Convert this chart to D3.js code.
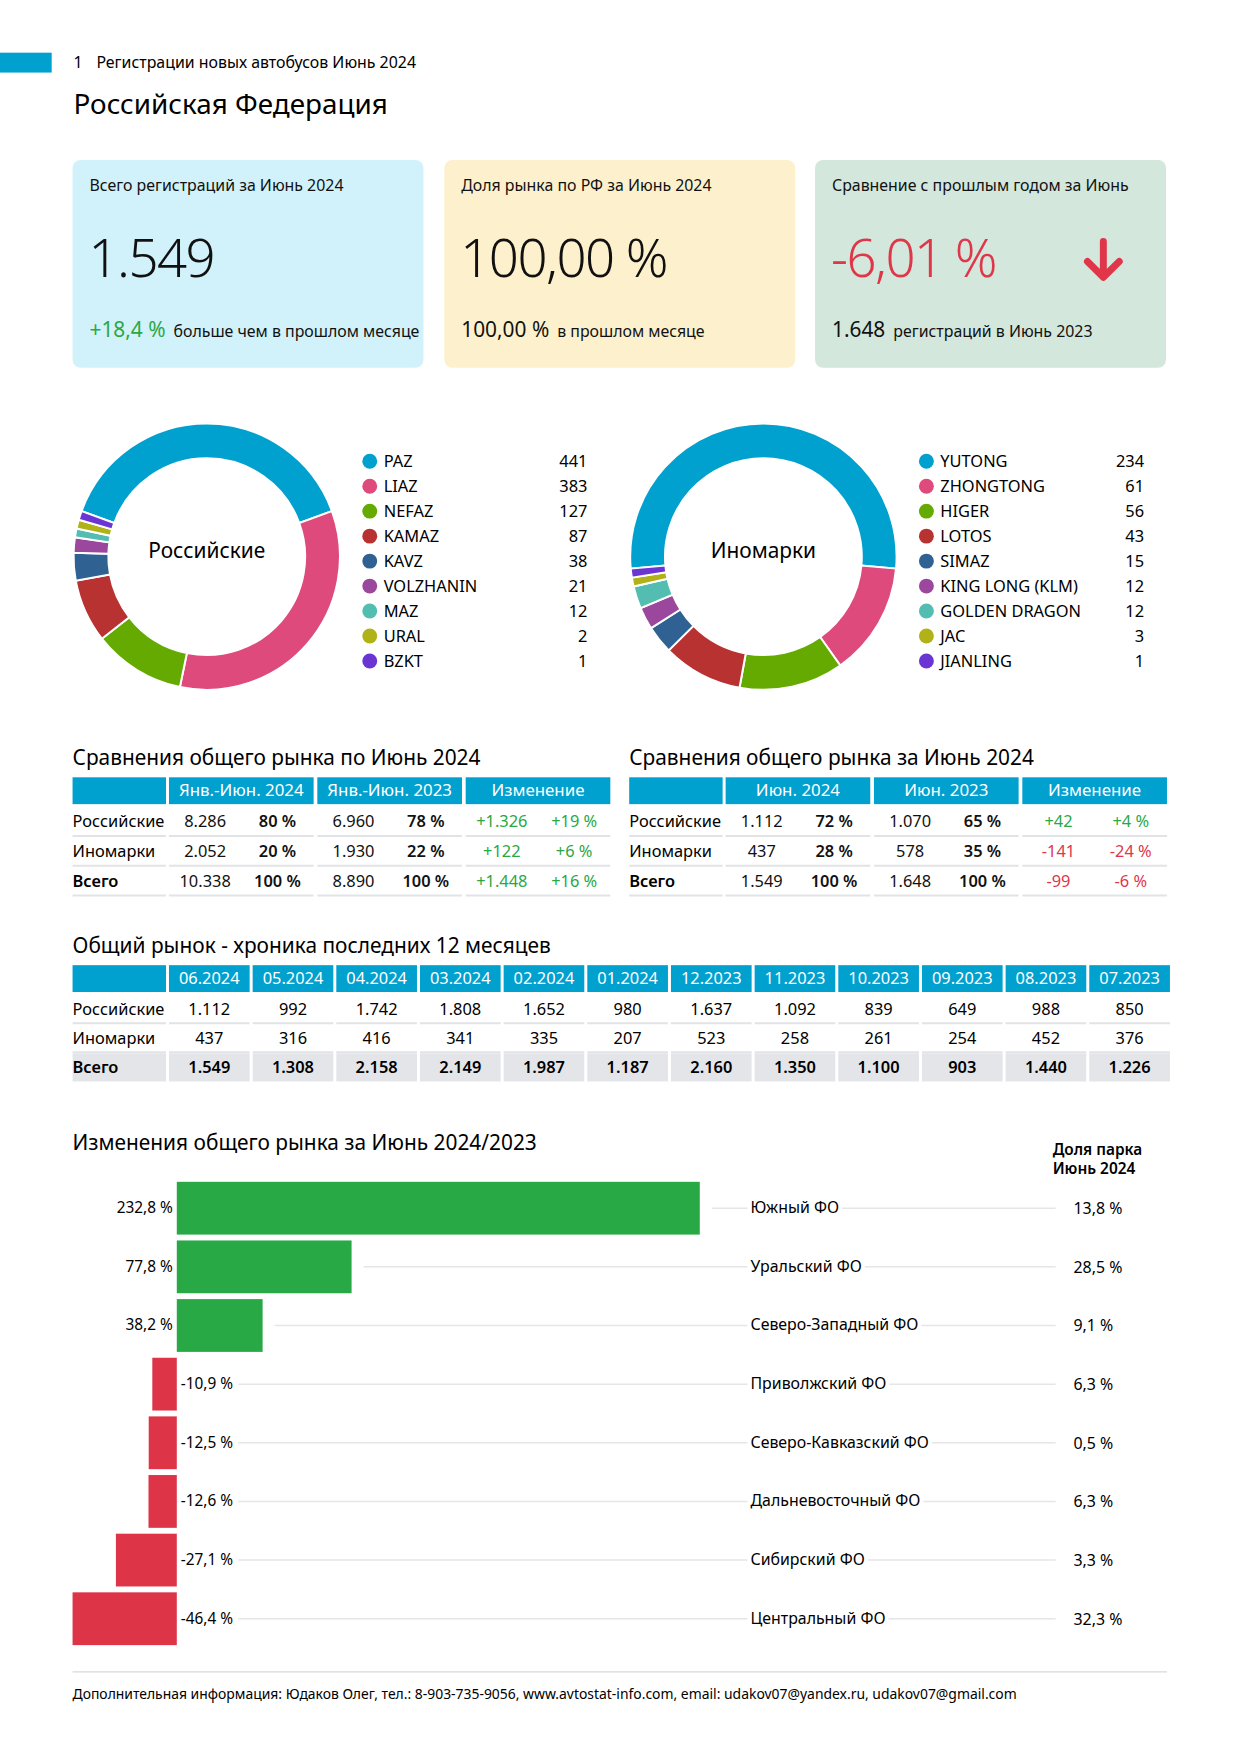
<!DOCTYPE html>
<html>
<head>
<meta charset="utf-8">
<script src="https://cdn.jsdelivr.net/npm/d3@7"></script>
<style>
  body { margin: 0; background: #fff; }
  svg { font-family: 'Noto Sans', sans-serif; display: block; }
</style>
</head>
<body>
<svg id="page" width="1240" height="1755"></svg>
<script>
// --- data ---
const rusBrands = ['PAZ', 'LIAZ', 'NEFAZ', 'KAMAZ', 'KAVZ', 'VOLZHANIN', 'MAZ', 'URAL', 'BZKT'];
const rusValues = [441, 383, 127, 87, 38, 21, 12, 2, 1];
const forBrands = ['YUTONG', 'ZHONGTONG', 'HIGER', 'LOTOS', 'SIMAZ', 'KING LONG (KLM)', 'GOLDEN DRAGON', 'JAC', 'JIANLING'];
const forValues = [234, 61, 56, 43, 15, 12, 12, 3, 1];
const sliceColors = ['#00a0cf', '#de4a7b', '#64aa00', '#b83232', '#2f6293', '#9b479d', '#52bdb0', '#b0b218', '#6a35d2'];

const rowNames = ['Российские', 'Иномарки', 'Всего'];
const ytd2024 = [8286, 2052, 10338];
const ytdShare2024 = [80, 20, 100];
const ytd2023 = [6960, 1930, 8890];
const ytdShare2023 = [78, 22, 100];
const ytdDiff = [1326, 122, 1448];
const ytdDiffPct = [19, 6, 16];

const jun2024 = [1112, 437, 1549];
const junShare2024 = [72, 28, 100];
const jun2023 = [1070, 578, 1648];
const junShare2023 = [65, 35, 100];
const junDiff = [42, -141, -99];
const junDiffPct = [4, -24, -6];

const months = ['06.2024', '05.2024', '04.2024', '03.2024', '02.2024', '01.2024', '12.2023', '11.2023', '10.2023', '09.2023', '08.2023', '07.2023'];
const monthRus = [1112, 992, 1742, 1808, 1652, 980, 1637, 1092, 839, 649, 988, 850];
const monthFor = [437, 316, 416, 341, 335, 207, 523, 258, 261, 254, 452, 376];
const monthTotal = [1549, 1308, 2158, 2149, 1987, 1187, 2160, 1350, 1100, 903, 1440, 1226];

const regions = ['Южный ФО', 'Уральский ФО', 'Северо-Западный ФО', 'Приволжский ФО', 'Северо-Кавказский ФО', 'Дальневосточный ФО', 'Сибирский ФО', 'Центральный ФО'];
const regionChange = [232.8, 77.8, 38.2, -10.9, -12.5, -12.6, -27.1, -46.4];
const regionShare = [13.8, 28.5, 9.1, 6.3, 0.5, 6.3, 3.3, 32.3];

const blue = '#00a0cf';
const green = '#2aa845';
const red = '#e0364a';
const ru = d3.formatLocale({ decimal: ',', thousands: '.', grouping: [3], currency: ['', ''], minus: '-' });
const fmtInt = ru.format(',d');
const fmtDec = ru.format(',.1f');
const signed = v => (v > 0 ? '+' : '') + fmtInt(v);

const svg = d3.select('#page');
const root = svg.append('g').attr('transform', 'scale(0.994)');

// --- header ---
root.append('rect').attr('x', 0).attr('y', 53).attr('width', 52).attr('height', 20).attr('fill', blue);
root.append('text').attr('x', 74).attr('y', 68).attr('font-size', 16).text('1');
root.append('text').attr('x', 97).attr('y', 68).attr('font-size', 16).text('Регистрации новых автобусов Июнь 2024');
root.append('text').attr('x', 74).attr('y', 115).attr('font-size', 28).text('Российская Федерация');

// --- kpi boxes ---
const boxes = [
  { x: 73, fill: '#d1f2fa', label: 'Всего регистраций за Июнь 2024', big: fmtInt(1549), bigColor: '#111', sub: '+18,4 %', subColor: green, note: 'больше чем в прошлом месяце' },
  { x: 447, fill: '#fdf1cd', label: 'Доля рынка по РФ за Июнь 2024', big: '100,00 %', bigColor: '#111', sub: '100,00 %', subColor: '#111', note: 'в прошлом месяце' },
  { x: 820, fill: '#d3e7dc', label: 'Сравнение с прошлым годом за Июнь', big: '-6,01 %', bigColor: red, sub: fmtInt(1648), subColor: '#111', note: 'регистраций в Июнь 2023' },
];
const gBox = root.append('g').selectAll('g').data(boxes).join('g')
  .attr('transform', d => `translate(${d.x},161)`);
gBox.append('rect').attr('width', 353).attr('height', 209).attr('rx', 8).attr('fill', d => d.fill);
gBox.append('text').attr('x', 17).attr('y', 31).attr('font-size', 16).attr('fill', '#111').text(d => d.label);
gBox.append('text').attr('x', 16).attr('y', 118).attr('font-size', 53).attr('font-weight', 300)
  .attr('letter-spacing', -1.5).attr('fill', d => d.bigColor).text(d => d.big);
const subText = gBox.append('text').attr('x', 17).attr('y', 178);
subText.append('tspan').attr('font-size', 21).attr('fill', d => d.subColor).text(d => d.sub);
subText.append('tspan').attr('dx', 8).attr('font-size', 16).attr('fill', '#111').text(d => d.note);
root.append('path')
  .attr('d', 'M1110,243V279M1094,263L1110,279L1126,263')
  .attr('fill', 'none').attr('stroke', red).attr('stroke-width', 7)
  .attr('stroke-linecap', 'round').attr('stroke-linejoin', 'round');

// --- donuts ---
function donut(cx, cy, title, names, values, legendX, valueX) {
  const total = d3.sum(values);
  const minPart = total * 0.011; // minimum visible slice, like a chart minAngle option
  const shown = v => Math.max(v, minPart);
  const start = -Math.PI * shown(values[0]) / d3.sum(values, shown);
  const pie = d3.pie().value(shown).sort(null).startAngle(start).endAngle(start + 2 * Math.PI);
  const arc = d3.arc().innerRadius(99).outerRadius(134);
  const g = root.append('g').attr('transform', `translate(${cx},${cy})`);
  g.selectAll('path').data(pie(values)).join('path')
    .attr('d', arc).attr('fill', (d, i) => sliceColors[i])
    .attr('stroke', '#fff').attr('stroke-width', 2);
  g.append('text').attr('text-anchor', 'middle').attr('dy', 1).attr('font-size', 21).text(title);

  const y = d3.scalePoint().domain(names).range([464, 665]);
  const lg = root.append('g').attr('font-size', 16.5);
  const row = lg.selectAll('g').data(names).join('g').attr('transform', d => `translate(0,${y(d)})`);
  row.append('circle').attr('cx', legendX).attr('r', 7.5).attr('fill', (d, i) => sliceColors[i]);
  row.append('text').attr('x', legendX + 14).attr('dy', 6).text(d => d);
  row.append('text').attr('x', valueX).attr('dy', 6).attr('text-anchor', 'end').text((d, i) => values[i]);
}
donut(208, 560, 'Российские', rusBrands, rusValues, 372, 591);
donut(768, 560, 'Иномарки', forBrands, forValues, 932, 1151);

// --- comparison tables ---
function compareTable(x0, title, heads, cols) {
  const g = root.append('g');
  g.append('text').attr('x', x0).attr('y', 770).attr('font-size', 21).text(title);
  const labelW = 94;
  const groups = d3.scaleBand().domain(heads).range([x0 + labelW + 3, x0 + 541]).paddingInner(0.025);
  g.append('rect').attr('x', x0).attr('y', 782).attr('width', labelW).attr('height', 27).attr('fill', blue);
  g.selectAll('rect.h').data(heads).join('rect').attr('class', 'h')
    .attr('x', d => groups(d)).attr('y', 782).attr('width', groups.bandwidth()).attr('height', 27).attr('fill', blue);
  g.selectAll('text.h').data(heads).join('text').attr('class', 'h')
    .attr('x', d => groups(d) + groups.bandwidth() / 2).attr('y', 801).attr('text-anchor', 'middle')
    .attr('font-size', 17).attr('fill', '#fff').text(d => d);

  const ry = d3.scaleBand().domain(rowNames).range([811, 901]);
  rowNames.forEach((r, i) => {
    const cy = ry(r) + ry.bandwidth() / 2;
    const bold = r === 'Всего' ? 600 : 400;
    g.append('text').attr('x', x0).attr('y', cy + 6).attr('font-size', 16.5).attr('font-weight', bold).text(r);
    g.append('line').attr('x1', x0).attr('x2', x0 + labelW).attr('y1', ry(r) + ry.bandwidth()).attr('y2', ry(r) + ry.bandwidth())
      .attr('stroke', '#e2e3e6').attr('stroke-width', 2);
    heads.forEach((h, j) => {
      const gx = groups(h);
      const half = groups.bandwidth() / 2;
      g.append('line').attr('x1', gx).attr('x2', gx + groups.bandwidth())
        .attr('y1', ry(r) + ry.bandwidth()).attr('y2', ry(r) + ry.bandwidth())
        .attr('stroke', '#e2e3e6').attr('stroke-width', 2);
      cols[j].forEach((c, k) => {
        const v = c.values[i];
        const color = c.signed ? (v >= 0 ? green : red) : '#111';
        g.append('text').attr('x', gx + half * k + half / 2).attr('y', cy + 6)
          .attr('text-anchor', 'middle').attr('font-size', 16.5).attr('fill', color)
          .attr('font-weight', c.bold ? 600 : 400)
          .text(c.fmt(v));
      });
    });
  });
}
const pct = v => `${v} %`;
const sPct = v => `${v > 0 ? '+' : ''}${v} %`;
compareTable(73, 'Сравнения общего рынка по Июнь 2024', ['Янв.-Июн. 2024', 'Янв.-Июн. 2023', 'Изменение'], [
  [{ values: ytd2024, fmt: fmtInt }, { values: ytdShare2024, fmt: pct, bold: true }],
  [{ values: ytd2023, fmt: fmtInt }, { values: ytdShare2023, fmt: pct, bold: true }],
  [{ values: ytdDiff, fmt: signed, signed: true }, { values: ytdDiffPct, fmt: sPct, signed: true }],
]);
compareTable(633, 'Сравнения общего рынка за Июнь 2024', ['Июн. 2024', 'Июн. 2023', 'Изменение'], [
  [{ values: jun2024, fmt: fmtInt }, { values: junShare2024, fmt: pct, bold: true }],
  [{ values: jun2023, fmt: fmtInt }, { values: junShare2023, fmt: pct, bold: true }],
  [{ values: junDiff, fmt: signed, signed: true }, { values: junDiffPct, fmt: sPct, signed: true }],
]);

// --- 12 month table ---
(function monthTable() {
  const g = root.append('g');
  g.append('text').attr('x', 73).attr('y', 959).attr('font-size', 21).text('Общий рынок - хроника последних 12 месяцев');
  const x = d3.scaleBand().domain(months).range([170, 1177]).paddingInner(0.036);
  const ry = d3.scaleBand().domain(rowNames).range([1000, 1088]);
  const series = [monthRus, monthFor, monthTotal];
  g.append('rect').attr('x', 73).attr('y', 971).attr('width', 94).attr('height', 27).attr('fill', blue);
  g.selectAll('rect.h').data(months).join('rect').attr('class', 'h')
    .attr('x', d => x(d)).attr('y', 971).attr('width', x.bandwidth()).attr('height', 27).attr('fill', blue);
  g.selectAll('text.h').data(months).join('text').attr('class', 'h')
    .attr('x', d => x(d) + x.bandwidth() / 2).attr('y', 990).attr('text-anchor', 'middle')
    .attr('font-size', 16.5).attr('fill', '#fff').text(d => d);
  rowNames.forEach((r, i) => {
    const top = ry(r);
    const cy = top + ry.bandwidth() / 2;
    const isTotal = r === 'Всего';
    if (isTotal) {
      g.append('rect').attr('x', 73).attr('y', top + 1).attr('width', 94).attr('height', ry.bandwidth() - 1).attr('fill', '#e4e5e9');
      g.selectAll(null).data(months).join('rect')
        .attr('x', d => x(d)).attr('y', top + 1).attr('width', x.bandwidth()).attr('height', ry.bandwidth() - 1).attr('fill', '#e4e5e9');
    } else {
      g.append('line').attr('x1', 73).attr('x2', 167).attr('y1', top + ry.bandwidth()).attr('y2', top + ry.bandwidth())
        .attr('stroke', '#e2e3e6').attr('stroke-width', 2);
      g.selectAll(null).data(months).join('line')
        .attr('x1', d => x(d)).attr('x2', d => x(d) + x.bandwidth())
        .attr('y1', top + ry.bandwidth()).attr('y2', top + ry.bandwidth())
        .attr('stroke', '#e2e3e6').attr('stroke-width', 2);
    }
    g.append('text').attr('x', 73).attr('y', cy + 6).attr('font-size', 16.5)
      .attr('font-weight', isTotal ? 600 : 400).text(r);
    g.selectAll(null).data(series[i]).join('text')
      .attr('x', (d, j) => x(months[j]) + x.bandwidth() / 2).attr('y', cy + 6)
      .attr('text-anchor', 'middle').attr('font-size', 16.5).attr('font-weight', isTotal ? 600 : 400)
      .text(d => fmtInt(d));
  });
}());

// --- regional change bars ---
(function regionBars() {
  const g = root.append('g');
  g.append('text').attr('x', 73).attr('y', 1157).attr('font-size', 21).text('Изменения общего рынка за Июнь 2024/2023');
  g.append('text').attr('x', 1059).attr('y', 1162).attr('font-size', 15.5).attr('font-weight', 600).text('Доля парка');
  g.append('text').attr('x', 1059).attr('y', 1181).attr('font-size', 15.5).attr('font-weight', 600).text('Июнь 2024');

  const x = d3.scaleLinear().domain([d3.min(regionChange), d3.max(regionChange)]).range([73, 704]);
  const y = d3.scaleBand().domain(regions).range([1186, 1658]).paddingInner(0.1).paddingOuter(0.05);
  const lineEnd = 1062;
  const rows = g.selectAll('g.row').data(regions).join('g').attr('class', 'row')
    .attr('transform', d => `translate(0,${y(d) + y.bandwidth() / 2})`);

  rows.each(function (r, i) {
    const row = d3.select(this);
    const v = regionChange[i];
    const line = row.append('line').attr('y1', 0).attr('y2', 0).attr('x2', lineEnd)
      .attr('stroke', '#e6e6e6').attr('stroke-width', 1.5);
    row.append('rect')
      .attr('x', Math.min(x(0), x(v))).attr('y', -y.bandwidth() / 2)
      .attr('width', Math.abs(x(v) - x(0))).attr('height', y.bandwidth())
      .attr('fill', v >= 0 ? '#28a946' : '#dd3447');
    const lab = row.append('text').attr('y', 5).attr('font-size', 15.5)
      .attr('x', v >= 0 ? x(0) - 4 : x(0) + 4)
      .attr('text-anchor', v >= 0 ? 'end' : 'start')
      .text(`${fmtDec(v)} %`);
    const start = v >= 0 ? x(v) + 12 : lab.node().getBBox().x + lab.node().getBBox().width + 5;
    line.attr('x1', start);
    const name = row.append('text').attr('x', 755).attr('y', 5).attr('font-size', 16).text(r);
    const bb = name.node().getBBox();
    row.insert('rect', function () { return name.node(); })
      .attr('x', bb.x - 3).attr('y', -4).attr('width', bb.width + 6).attr('height', 8).attr('fill', '#fff');
    row.append('text').attr('x', 1080).attr('y', 6).attr('font-size', 16).text(`${fmtDec(regionShare[i])} %`);
  });
}());

// --- footer ---
root.append('line').attr('x1', 73).attr('x2', 1174).attr('y1', 1682).attr('y2', 1682).attr('stroke', '#cfcfcf');
root.append('text').attr('x', 73).attr('y', 1709).attr('font-size', 14)
  .text('Дополнительная информация: Юдаков Олег, тел.: 8-903-735-9056, www.avtostat-info.com, email: udakov07@yandex.ru, udakov07@gmail.com');
</script>
</body>
</html>
